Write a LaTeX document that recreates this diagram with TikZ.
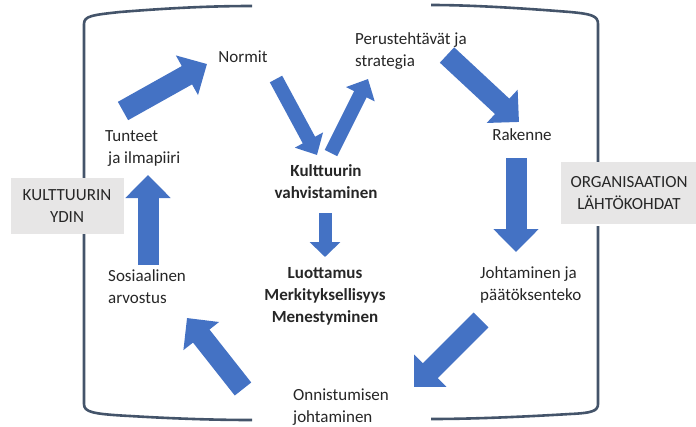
\documentclass[tikz,border=0pt]{standalone}
\usepackage{fontspec}
\setmainfont{Carlito}
\usetikzlibrary{arrows.meta}
\definecolor{arrowblue}{HTML}{4472C4}
\definecolor{framegray}{HTML}{44546A}
\definecolor{boxgray}{HTML}{E7E6E6}
\definecolor{textdark}{HTML}{262626}
\tikzset{
  lbl/.style={font=\fontsize{17}{21.5}\selectfont, text=textdark, inner sep=0pt},
  boldlbl/.style={lbl, font=\fontsize{17}{22}\selectfont\bfseries, align=center},
  sidebox/.style={lbl, fill=boxgray, align=center, minimum height=56pt},
  bracket/.style={framegray, line width=2.6pt},
  bigarrow/.style={arrowblue, line width=21pt, -{Triangle[length=23pt,width=44pt]}},
  smallarrow/.style={arrowblue, line width=14pt, -{Triangle[length=17pt,width=31pt]}}
}
\begin{document}
\begin{tikzpicture}[x=1pt,y=-1pt]
  \useasboundingbox (0,0) rectangle (696,426);
  % frame
  \draw[bracket] (84,182) -- (84,24) .. controls (84,16) and (92,15) .. (120,12)
    .. controls (170,8) and (210,6) .. (252,6);
  \draw[bracket] (84,232) -- (84,404) .. controls (84,412) and (92,414) .. (130,416)
    .. controls (180,419) and (220,420) .. (252,420);
  \draw[bracket] (598,162) -- (598,24) .. controls (598,16) and (592,14) .. (570,12)
    .. controls (520,8) and (470,5) .. (431,5);
  \draw[bracket] (598,226) -- (598,404) .. controls (598,411) and (592,413) .. (570,414)
    .. controls (520,417) and (470,419) .. (431,419);
  % side boxes
  \node[sidebox, minimum width=113pt] (ydin) at (67,206) {KULTTUURIN\\YDIN};
  \node[sidebox, minimum width=136pt, minimum height=62pt] (lahto) at (629,193) {ORGANISAATION\\LÄHTÖKOHDAT};
  % labels (base = last line)
  \node[lbl, anchor=base] (normit) at (243,62) {Normit};
  \node[lbl, anchor=base west, align=left] (perus) at (355,66) {Perustehtävät ja\\strategia};
  \node[lbl, anchor=base west, align=left] (tunteet) at (105,163) {Tunteet\\\hspace{3pt}ja ilmapiiri};
  \node[lbl, anchor=base] (rakenne) at (522,140) {Rakenne};
  \node[boldlbl, anchor=base] (vahv) at (326,198) {Kulttuurin\\vahvistaminen};
  \node[boldlbl, anchor=base] (luott) at (325,322) {Luottamus\\Merkityksellisyys\\Menestyminen};
  \node[lbl, anchor=base west, align=left] (sosi) at (108,303) {Sosiaalinen\\arvostus};
  \node[lbl, anchor=base west, align=left] (johto) at (480,300) {Johtaminen ja\\päätöksenteko};
  \node[lbl, anchor=base west, align=left] (onnis) at (293,422) {Onnistumisen\\johtaminen};
  % arrow ends
  \coordinate (a1) at (123,111); \coordinate (b1) at (207,64);
  \coordinate (a2) at (276,79);  \coordinate (b2) at (317,155);
  \coordinate (a3) at (331,153); \coordinate (b3) at (368,79);
  \coordinate (a4) at (447,55);  \coordinate (b4) at (519,122);
  \coordinate (a5) at (516,158); \coordinate (b5) at (516,252);
  \coordinate (a6) at (481,320); \coordinate (b6) at (414,387);
  \coordinate (a7) at (243,389); \coordinate (b7) at (187,318);
  \coordinate (a8) at (148,265); \coordinate (b8) at (148,175);
  \coordinate (a9) at (325,213); \coordinate (b9) at (325,257);
  % arrows
  \draw[bigarrow] (a1) -- (b1);
  \draw[smallarrow] (a2) -- (b2);
  \draw[smallarrow] (a3) -- (b3);
  \draw[bigarrow] (a4) -- (b4);
  \draw[bigarrow] (a5) -- (b5);
  \draw[bigarrow] (a6) -- (b6);
  \draw[bigarrow] (a7) -- (b7);
  \draw[bigarrow] (a8) -- (b8);
  \draw[arrowblue, line width=13pt, -{Triangle[length=15pt,width=30pt]}] (a9) -- (b9);
\end{tikzpicture}
\end{document}
